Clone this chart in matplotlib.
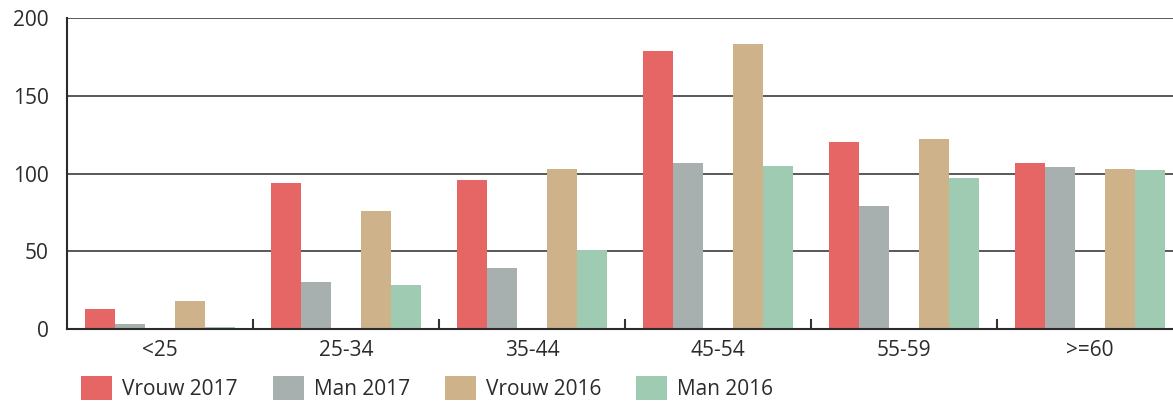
import matplotlib.pyplot as plt
import numpy as np

plt.rcParams['font.family'] = ['Open Sans', 'DejaVu Sans']

groepen = ['<25', '25-34', '35-44', '45-54', '55-59', '>=60']
vrouw_2017 = [13, 94, 96, 179, 120, 107]
man_2017 = [3, 30, 39, 107, 79, 104]
vrouw_2016 = [18, 76, 103, 183, 122, 103]
man_2016 = [1, 28, 51, 105, 97, 102]

reeksen = [
    ('Vrouw 2017', vrouw_2017, '#e56665', 0),
    ('Man 2017', man_2017, '#a8b0af', 1),
    ('Vrouw 2016', vrouw_2016, '#cdb28a', 3),
    ('Man 2016', man_2016, '#a0cbb3', 4),
]

W, H = 1173, 401
fig = plt.figure(figsize=(W / 100, H / 100), dpi=100)
ax = fig.add_axes([67 / W, 1 - 329 / H, 1 - 67 / W, (329 - 18) / H])

groep = 186.0          # pixels per groep
bw = 30 / groep        # bar width in groep units
x = np.arange(len(groepen))
for naam, vals, kleur, slot in reeksen:
    pos = x + (18 + 15 + 30 * slot) / groep
    ax.bar(pos, vals, width=bw, color=kleur, label=naam, zorder=3)

ax.set_xlim(0, (W - 67) / groep)
ax.set_ylim(0, 200)
ax.set_yticks([0, 50, 100, 150, 200])
ax.yaxis.grid(True, color='#3c3c3c', linewidth=1.2, zorder=0)
ax.set_axisbelow(True)

ax.set_xticks(x + 0.5)
ax.set_xticklabels(groepen)
ax.set_xticks(np.arange(1, len(groepen)), minor=True)
ax.tick_params(axis='x', which='major', length=0, pad=8, labelsize=15, labelcolor='#2b2b2b')
ax.tick_params(axis='x', which='minor', length=7, width=1.5, direction='in', color='#333333')
ax.tick_params(axis='y', length=0, pad=13, labelsize=15, labelcolor='#2b2b2b')

for s in ['top', 'right']:
    ax.spines[s].set_visible(False)
for s in ['left', 'bottom']:
    ax.spines[s].set_color('#2b2b2b')
    ax.spines[s].set_linewidth(1.5)
ax.spines['bottom'].set_zorder(4)

fig.legend(loc='center left', bbox_to_anchor=(81 / W, 1 - 388 / H), ncol=4,
           frameon=False, fontsize=15, handlelength=1.49, handleheight=1.44,
           handletextpad=0.48, columnspacing=1.68, borderpad=0, borderaxespad=0,
           labelcolor='#2b2b2b')

fig.savefig('out.png', dpi=100)
